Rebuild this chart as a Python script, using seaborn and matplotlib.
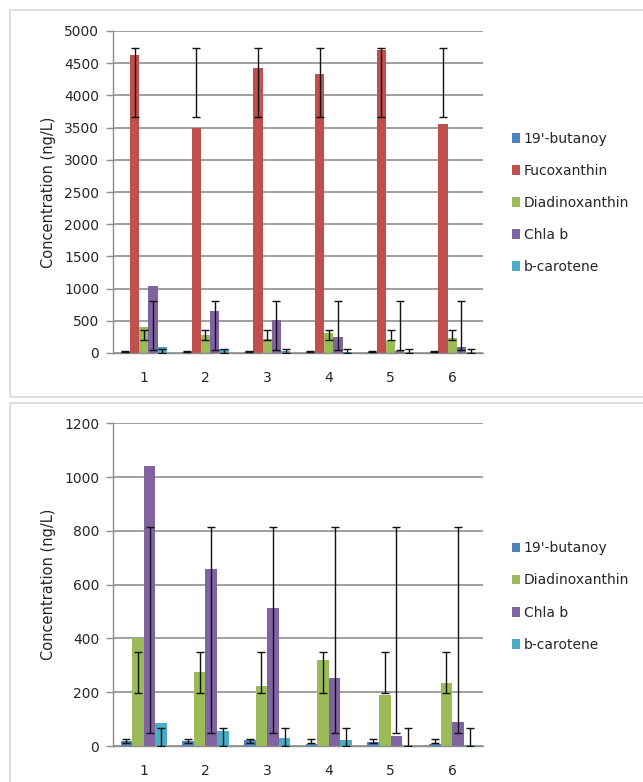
import matplotlib
matplotlib.use("Agg")
import matplotlib.pyplot as plt
from matplotlib.patches import Rectangle
import pandas as pd
import seaborn as sns

# ---- data -------------------------------------------------------------
samples = ["1", "2", "3", "4", "5", "6"]

butanoy = [20, 20, 22, 6, 15, 6]
fucoxanthin = [4620, 3500, 4430, 4330, 4710, 3550]
diadinoxanthin = [400, 277, 222, 318, 188, 234]
chla_b = [1040, 657, 512, 252, 38, 90]
b_carotene = [86, 55, 29, 23, 0, 3]

# error bar ranges (lower / upper bound) for each pigment
butanoy_lo = [10, 10, 10, 10, 10, 10]
butanoy_hi = [25, 25, 25, 25, 25, 25]
fucoxanthin_lo = [3660, 3660, 3660, 3660, 3660, 3660]
fucoxanthin_hi = [4730, 4730, 4730, 4730, 4730, 4730]
diadinoxanthin_lo = [197, 197, 197, 197, 197, 197]
diadinoxanthin_hi = [350, 350, 350, 350, 350, 350]
chla_b_lo = [48, 48, 48, 48, 48, 48]
chla_b_hi = [815, 815, 815, 815, 815, 815]
b_carotene_lo = [0, 0, 0, 0, 0, 0]
b_carotene_hi = [66, 66, 66, 66, 66, 66]

pigments = {
    "19'-butanoy": (butanoy, butanoy_lo, butanoy_hi, "#4F81BD"),
    "Fucoxanthin": (fucoxanthin, fucoxanthin_lo, fucoxanthin_hi, "#C0504D"),
    "Diadinoxanthin": (diadinoxanthin, diadinoxanthin_lo, diadinoxanthin_hi, "#9BBB59"),
    "Chla b": (chla_b, chla_b_lo, chla_b_hi, "#8064A2"),
    "b-carotene": (b_carotene, b_carotene_lo, b_carotene_hi, "#4BACC6"),
}

# ---- style ------------------------------------------------------------
sns.set_theme(style="white")
plt.rcParams["font.family"] = ["DejaVu Sans"]

W, H = 643, 782
fig = plt.figure(figsize=(W / 100, H / 100), dpi=100)

GRID = "#A0A0A0"
AXIS = "#8C8C8C"
TEXT = "#262626"


def panel(rect, names, ymax, ystep, legend_center_y):
    ax = fig.add_axes(rect)
    rows = []
    for name in names:
        vals = pigments[name][0]
        for s, v in zip(samples, vals):
            rows.append({"Sample": s, "Concentration": v, "Pigment": name})
    df = pd.DataFrame(rows)
    palette = {n: pigments[n][3] for n in names}
    sns.barplot(data=df, x="Sample", y="Concentration", hue="Pigment",
                hue_order=names, order=samples, palette=palette,
                errorbar=None, width=0.75, saturation=1, linewidth=0,
                ax=ax)

    # error bars centred on each bar
    for name, cont in zip(names, ax.containers):
        _, lo, hi, _ = pigments[name]
        for patch, l, h in zip(cont.patches, lo, hi):
            xc = patch.get_x() + patch.get_width() / 2
            ax.errorbar(xc, (l + h) / 2, yerr=(h - l) / 2, fmt="none",
                        ecolor="#111111", elinewidth=1.0, capsize=3.2,
                        capthick=1.0, zorder=5)

    ax.set_xlim(-0.5, len(samples) - 0.5)
    ax.set_ylim(0, ymax)
    ax.set_yticks(range(0, ymax + 1, ystep))
    ax.yaxis.grid(True, color=GRID, lw=1.4)
    ax.set_axisbelow(True)
    for s in ("top", "right"):
        ax.spines[s].set_visible(False)
    for s in ("left", "bottom"):
        ax.spines[s].set_color(AXIS)
        ax.spines[s].set_linewidth(1.0)

    ax.set_xticks(range(len(samples)))
    ax.set_xticks([i - 0.5 for i in range(len(samples) + 1)], minor=True)
    ax.tick_params(axis="x", which="major", length=0, pad=13,
                   labelsize=10, labelcolor=TEXT)
    ax.tick_params(axis="x", which="minor", length=6, width=1.0,
                   color=AXIS, direction="out")
    ax.tick_params(axis="y", which="major", length=5, width=1.0,
                   color=AXIS, direction="out", labelsize=10,
                   labelcolor=TEXT, pad=5, left=True)
    ax.set_xlabel("")
    ax.set_ylabel("Concentration (ng/L)", fontsize=10.5, color=TEXT,
                  labelpad=6)

    handles, labels = ax.get_legend_handles_labels()
    ax.legend(handles, labels, loc="center left",
              bbox_to_anchor=(512 / W, 1 - legend_center_y / H),
              bbox_transform=fig.transFigure, frameon=False,
              fontsize=10, labelcolor=TEXT, handlelength=0.55,
              handleheight=0.7, handletextpad=0.3, labelspacing=1.3,
              borderpad=0, borderaxespad=0)
    return ax


def fig_rect(x0, y_top, x1, y_bot):
    return [x0 / W, 1 - y_bot / H, (x1 - x0) / W, (y_bot - y_top) / H]


# chart frames
fig.patches.append(Rectangle((10 / W, 1 - 397 / H), 1.2, (397 - 10) / H,
                             transform=fig.transFigure, fill=False,
                             ec="#D9D9D9", lw=1.2))
fig.patches.append(Rectangle((10 / W, -0.1), 1.2, 1 - 403 / H + 0.1,
                             transform=fig.transFigure, fill=False,
                             ec="#D9D9D9", lw=1.2))

panel(fig_rect(113, 31, 483, 353),
      ["19'-butanoy", "Fucoxanthin", "Diadinoxanthin", "Chla b", "b-carotene"],
      5000, 500, 203)
panel(fig_rect(113, 423.3, 483, 746),
      ["19'-butanoy", "Diadinoxanthin", "Chla b", "b-carotene"],
      1200, 200, 596.5)

fig.savefig("out.png", dpi=100)
